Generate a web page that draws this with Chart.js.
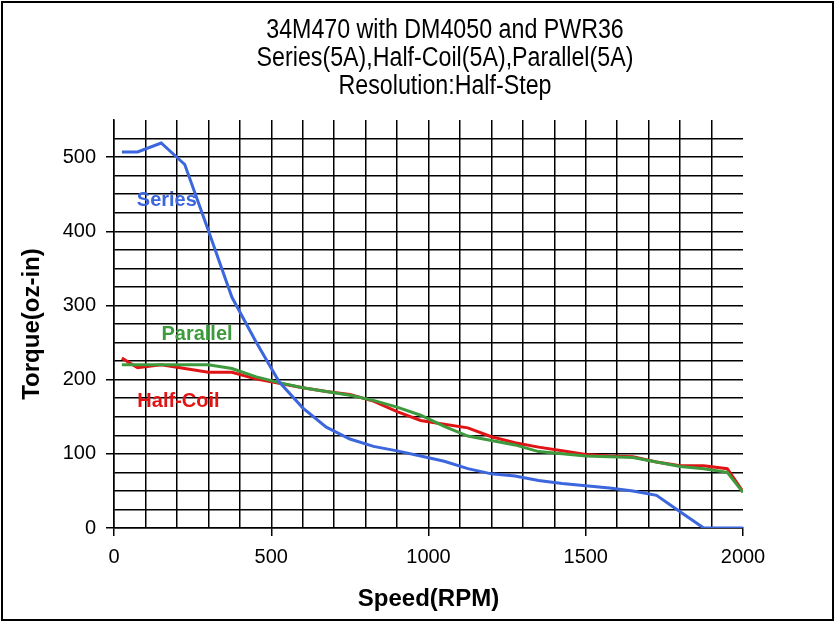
<!DOCTYPE html>
<html>
<head>
<meta charset="utf-8">
<script src="https://cdn.jsdelivr.net/npm/chart.js@4"></script>
<style>
    body { margin: 0; background: #fff; }
    canvas { display: block; }
</style>
</head>
<body>
<canvas id="chartTorque" width="835" height="622"></canvas>
<script>
// Datos
const speeds = [25, 75, 150, 225, 300, 375, 450, 525, 600, 675, 750, 825, 900, 975, 1050, 1125, 1200, 1275, 1350, 1425, 1500, 1575, 1650, 1725, 1800, 1875, 1950, 2000]
const seriesTorque = [507, 507, 519, 490, 401, 311, 252, 197, 162, 136, 120, 110, 104, 97, 90, 80, 73, 70, 64, 60, 57, 54, 50, 44, 22, 0, 0, 0]
const halfCoilTorque = [229, 216, 220, 215, 210, 210, 201, 195, 189, 184, 180, 171, 157, 145, 140, 135, 123, 115, 109, 104, 99, 97, 96, 89, 84, 84, 80, 49]
const parallelTorque = [220, 220, 220, 220, 220, 215, 204, 196, 189, 184, 179, 172, 163, 152, 137, 124, 118, 112, 103, 100, 97, 96, 95, 89, 83, 80, 75, 48]

const titleLines = ['34M470 with DM4050 and PWR36', 'Series(5A),Half-Coil(5A),Parallel(5A)', 'Resolution:Half-Step']
const xTicks = [0, 500, 1000, 1500, 2000]
const yTicks = [0, 100, 200, 300, 400, 500]

const BLUE = '#3b66dd'
const GREEN = '#3d9a3d'
const RED = '#e01414'

const sans = "'Liberation Sans', Arial, sans-serif"

function toPoints(values) {
    return speeds.map((s, i) => ({ x: s, y: values[i] }))
}

// Título de tres líneas, etiquetas de las curvas y marco
const decoraciones = {
    id: 'decoraciones',
    afterDatasetsDraw(chart) {
        const { ctx, scales } = chart
        ctx.save()
        const etiquetas = [
            { text: 'Series', x: 168, y: 442, color: BLUE },
            { text: 'Parallel', x: 264, y: 261, color: GREEN },
            { text: 'Half-Coil', x: 205, y: 171, color: RED }
        ]
        ctx.font = `bold 20px ${sans}`
        ctx.textAlign = 'center'
        ctx.textBaseline = 'middle'
        etiquetas.forEach(e => {
            ctx.fillStyle = e.color
            ctx.fillText(e.text, scales.x.getPixelForValue(e.x), scales.y.getPixelForValue(e.y))
        })
        ctx.restore()
    },
    afterDraw(chart) {
        const { ctx } = chart
        ctx.save()
        ctx.fillStyle = '#000'
        ctx.font = `27px ${sans}`
        ctx.textAlign = 'center'
        ctx.textBaseline = 'middle'
        // texto algo condensado como en el original
        titleLines.forEach((t, i) => {
            ctx.save()
            ctx.translate(445, 31 + i * 28)
            ctx.scale(0.86, 1)
            ctx.fillText(t, 0, 0)
            ctx.restore()
        })
        ctx.strokeStyle = '#000'
        ctx.lineWidth = 2
        ctx.strokeRect(2, 2, chart.width - 4, chart.height - 4)
        ctx.restore()
    }
}

const ctx = document.getElementById('chartTorque').getContext('2d')
new Chart(ctx, {
    type: 'line',
    data: {
        datasets: [
            { label: 'Series', data: toPoints(seriesTorque), borderColor: BLUE },
            { label: 'Parallel', data: toPoints(parallelTorque), borderColor: GREEN },
            { label: 'Half-Coil', data: toPoints(halfCoilTorque), borderColor: RED }
        ]
    },
    options: {
        responsive: false,
        animation: false,
        devicePixelRatio: 1,
        layout: { padding: { top: 120, right: 92, left: 0, bottom: 0 } },
        elements: {
            line: { borderWidth: 3, tension: 0, fill: false },
            point: { radius: 0 }
        },
        plugins: {
            legend: { display: false },
            title: { display: false },
            tooltip: { enabled: false }
        },
        scales: {
            x: {
                type: 'linear',
                min: 0,
                max: 2000,
                afterFit: (scale) => { scale.height = 94 },
                ticks: {
                    stepSize: 100,
                    autoSkip: false,
                    maxRotation: 0,
                    padding: 9,
                    color: '#000',
                    font: { family: sans, size: 20 },
                    callback: (v) => xTicks.includes(v) ? v : ''
                },
                grid: {
                    color: (c) => c.tick && c.tick.value === 2000 ? 'rgba(0,0,0,0)' : '#000',
                    tickColor: (c) => c.tick && xTicks.includes(c.tick.value) ? '#000' : 'rgba(0,0,0,0)',
                    tickLength: 8,
                    lineWidth: 1.5
                },
                border: { color: '#000', width: 1.5 },
                title: {
                    display: true,
                    text: 'Speed(RPM)',
                    color: '#000',
                    font: { family: sans, size: 24, weight: 'bold' },
                    padding: { top: 0, bottom: 8 }
                }
            },
            y: {
                min: 0,
                max: 550,
                afterFit: (scale) => { scale.width = 114 },
                ticks: {
                    stepSize: 25,
                    autoSkip: false,
                    padding: 10,
                    color: '#000',
                    font: { family: sans, size: 20 },
                    callback: (v) => yTicks.includes(v) ? v : ''
                },
                grid: {
                    color: (c) => c.tick && c.tick.value === 550 ? 'rgba(0,0,0,0)' : '#000',
                    tickColor: (c) => c.tick && yTicks.includes(c.tick.value) ? '#000' : 'rgba(0,0,0,0)',
                    tickLength: 8,
                    lineWidth: 1.5
                },
                border: { color: '#000', width: 1.5 },
                title: {
                    display: true,
                    text: 'Torque(oz-in)',
                    color: '#000',
                    font: { family: sans, size: 24, weight: 'bold' },
                    padding: { top: 18, bottom: 0 }
                }
            }
        }
    },
    plugins: [decoraciones]
})
</script>
</body>
</html>
